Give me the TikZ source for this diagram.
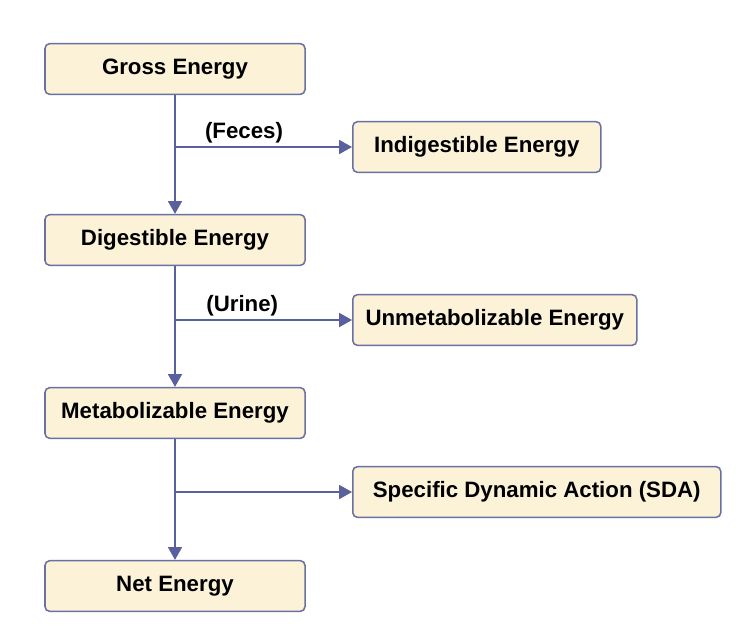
\documentclass[tikz,border=0pt]{standalone}
\usepackage{fontspec}
\setmainfont{Liberation Sans}
\usetikzlibrary{arrows.meta,positioning,calc}
\definecolor{boxfill}{HTML}{FBF2D8}
\definecolor{boxline}{HTML}{6B70A3}
\definecolor{flow}{HTML}{5A5F9E}

\begin{document}
\begin{tikzpicture}[x=0.03cm, y=-0.03cm,
    font=\bfseries\fontsize{19}{22}\selectfont,
    block/.style={rectangle, rounded corners=4pt, draw=boxline, line width=1.3pt, fill=boxfill, minimum height=1.52cm, inner sep=0pt},
    mainblock/.style={block, minimum width=7.8cm},
    line/.style={draw=flow, line width=1.4pt, -{Triangle[length=11pt,width=12pt]}}]
    \useasboundingbox (0,0) rectangle (740,634);

    % Main chain
    \node [mainblock] (gross) at (175,69) {Gross Energy};
    \node [mainblock] (digestible) at (175,240) {Digestible Energy};
    \node [mainblock] (metabolizable) at (175,413) {Metabolizable Energy};
    \node [mainblock] (net) at (175,586) {Net Energy};

    % Losses
    \node [block, minimum width=7.44cm, anchor=west] (indigestible) at (352,147) {Indigestible Energy};
    \node [block, minimum width=8.52cm, anchor=west] (unmetabolizable) at (352,320) {Unmetabolizable Energy};
    \node [block, minimum width=11.04cm, anchor=west] (sda) at (352,492) {Specific Dynamic Action (SDA)};

    % Branch points
    \coordinate (feces) at (gross.south |- indigestible.west);
    \coordinate (urine) at (digestible.south |- unmetabolizable.west);
    \coordinate (heat) at (metabolizable.south |- sda.west);

    % Connections
    \draw [line] (gross) -- (digestible);
    \draw [line] (digestible) -- (metabolizable);
    \draw [line] (metabolizable) -- (net);
    \draw [line] (feces) -- node[above, pos=0.39, inner sep=3pt] {(Feces)} (indigestible);
    \draw [line] (urine) -- node[above, pos=0.38, inner sep=3pt] {(Urine)} (unmetabolizable);
    \draw [line] (heat) -- (sda);
\end{tikzpicture}
\end{document}
